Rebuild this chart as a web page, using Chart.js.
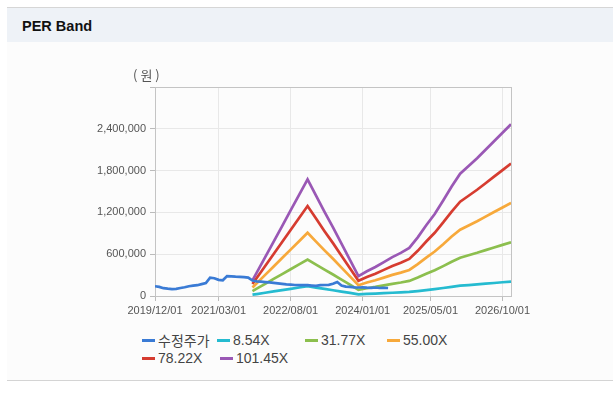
<!DOCTYPE html>
<html><head><meta charset="utf-8">
<script src="https://cdn.jsdelivr.net/npm/chart.js@4"></script>
<style>
html,body{margin:0;padding:0;background:#fff;width:613px;height:393px;overflow:hidden;font-family:"Liberation Sans",Arial,sans-serif;}
#hdr{position:absolute;left:7px;top:7px;width:606px;height:34px;border-top:1px solid #d6d6d6;background:#eef2f7;}
#hdr span{position:absolute;left:15px;top:10px;line-height:16px;font:bold 14.5px "Liberation Sans",Arial,sans-serif;color:#111;}
#body{position:absolute;left:7px;top:42px;width:606px;height:338px;background:#fcfcfc;border-bottom:1px solid #d4d4d4;}
#unit{position:absolute;left:133px;top:67px;font-size:13px;line-height:16px;letter-spacing:3px;color:#555;font-family:"Noto Sans CJK KR","Liberation Sans",sans-serif;}
#c{position:absolute;left:0;top:0;}
.lg{position:absolute;display:flex;align-items:center;height:16px;font-size:14px;color:#444;white-space:nowrap;}
.lg i{display:inline-block;width:13px;height:3px;margin-right:3px;}
.lg span{font-family:"Liberation Sans","Noto Sans CJK KR",sans-serif;}
</style></head>
<body>
<div id="hdr"><span>PER Band</span></div>
<div id="body"></div>
<canvas id="c" width="613" height="330"></canvas>
<div id="unit">(원)</div>
<div id="legend"></div>
<script>
// x values are months since 2019/12/01
const xTickMonths = [0, 15, 32, 49, 65, 82];
const xTickLabels = ['2019/12/01', '2021/03/01', '2022/08/01', '2024/01/01', '2025/05/01', '2026/10/01'];
const yTicks = [0, 600000, 1200000, 1800000, 2400000];

const seriesNames = ['수정주가', '8.54X', '31.77X', '55.00X', '78.22X', '101.45X'];
const seriesColors = ['#3a7bd5', '#25bbd0', '#8cbf4e', '#f7a93b', '#d63c30', '#9a58b5'];

const priceMonths = [0,1,2,3,4,5,6,7,8,9,10,11,12,13,14,15,16,17,18,19,20,21,22,23,24,25,26,27,28,29,30,31,32,33,34,35,36,37,38,39,40,41,42,43,44,45,46,47,48,49,50,51,52,53,54,55];
const priceK = [140,130,112,105,100,102,115,125,140,148,155,170,185,262,255,232,225,285,283,278,275,272,265,222,210,205,200,195,188,182,175,168,163,158,157,158,155,150,145,155,158,160,175,200,150,135,130,125,122,125,120,118,122,115,118,115];

const bandMonths = [23,24,26,28,30,32,34,36,38,40,42,44,46,48,50,52,54,56,58,60,62,64,66,68,70,72,74,76,78,80,82,84];
const band854K  = [19,28,47,66,85,103,122,141,121,102,83,63,44,24,30,35,41,47,52,58,71,85,99,115,132,148,157,167,177,187,197,205];
const band3177K = [70,105,175,245,315,384,454,524,451,378,308,235,162,89,111,130,152,175,194,216,264,318,369,429,492,550,585,620,658,696,734,772];
const band5500K = [121,182,303,424,545,666,787,908,781,655,534,407,281,154,193,226,264,303,336,374,457,550,638,743,853,952,1012,1073,1139,1205,1271,1337];
const band7822K = [172,258,430,602,774,946,1119,1291,1111,931,759,579,399,219,274,321,375,430,477,532,649,782,907,1056,1212,1353,1439,1525,1619,1713,1807,1901];
const band10145K = [223,335,558,781,1004,1228,1451,1674,1441,1207,984,751,517,284,355,416,487,558,619,690,842,1015,1177,1370,1572,1755,1867,1978,2100,2222,2343,2465];

const seriesValues = [priceK, band854K, band3177K, band5500K, band7822K, band10145K];
const seriesMonths = [priceMonths, bandMonths, bandMonths, bandMonths, bandMonths, bandMonths];

const datasets = seriesValues.map((vals, i) => ({
  label: seriesNames[i],
  data: vals.map((v, j) => ({x: seriesMonths[i][j], y: v * 1000})),
  borderColor: seriesColors[i],
  backgroundColor: seriesColors[i],
  borderWidth: 2.7,
  pointRadius: 0,
  tension: 0,
  fill: false
}));

const frame = {
  id: 'frame',
  beforeDatasetsDraw(chart) {
    const a = chart.chartArea, ctx = chart.ctx;
    ctx.save();
    ctx.strokeStyle = '#c4c4c4';
    ctx.lineWidth = 1;
    ctx.strokeRect(Math.round(a.left) + 0.5, Math.round(a.top) + 0.5, Math.round(a.right - a.left), Math.round(a.bottom - a.top));
    ctx.restore();
  }
};

const fmt = v => v.toLocaleString('en-US');

new Chart(document.getElementById('c'), {
  type: 'line',
  data: {datasets},
  plugins: [frame],
  options: {
    responsive: false,
    animation: false,
    devicePixelRatio: 1,
    layout: {padding: {left: 95, right: 102, top: 87, bottom: 10}},
    plugins: {legend: {display: false}, tooltip: {enabled: false}},
    scales: {
      x: {
        type: 'linear', min: 0, max: 84,
        afterBuildTicks: s => { s.ticks = xTickMonths.map(v => ({value: v})); },
        afterFit: s => { s.height = 24; },
        ticks: {
          callback: (v) => { const k = xTickMonths.indexOf(v); return k >= 0 ? xTickLabels[k] : ''; },
          color: '#555', font: {family: '"Liberation Sans", Arial, sans-serif', size: 11},
          maxRotation: 0, autoSkip: false, padding: 3
        },
        grid: {color: '#e8e8e8', tickColor: '#bbb', tickLength: 5},
        border: {color: '#bbb'}
      },
      y: {
        min: 0, max: 3000000,
        afterBuildTicks: s => { s.ticks = yTicks.concat([3000000]).map(v => ({value: v})); },
        afterFit: s => { s.width = 60; },
        ticks: {
          callback: v => yTicks.includes(v) ? fmt(v) : '',
          color: '#555', font: {family: '"Liberation Sans", Arial, sans-serif', size: 11},
          padding: 4
        },
        grid: {color: '#e8e8e8', tickColor: '#bbb', tickLength: 5},
        border: {color: '#bbb'}
      }
    }
  }
});

// HTML legend
const legendPos = [[142, 332], [217, 332], [305, 332], [387, 332], [142, 350], [220, 350]];
const lg = document.getElementById('legend');
seriesNames.forEach((n, i) => {
  const d = document.createElement('div');
  d.className = 'lg';
  d.style.left = legendPos[i][0] + 'px';
  d.style.top = legendPos[i][1] + 'px';
  d.innerHTML = '<i style="background:' + seriesColors[i] + '"></i><span>' + n + '</span>';
  lg.appendChild(d);
});
</script>
</body></html>
